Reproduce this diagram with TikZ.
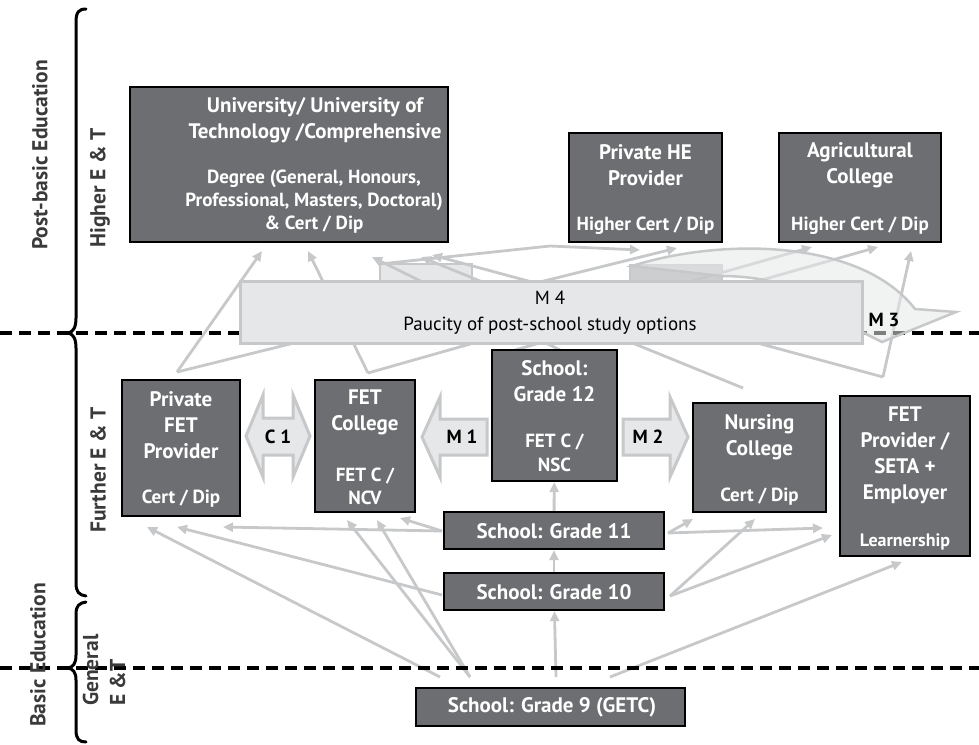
\documentclass[tikz,border=0pt]{standalone}
\usepackage{fontspec}
\setmainfont{PT Sans}
\usetikzlibrary{arrows.meta}
\definecolor{boxgray}{HTML}{6D6E71}
\definecolor{flowgray}{HTML}{C7C8CA}
\definecolor{lightfill}{HTML}{E6E7E8}
\definecolor{tabfill}{HTML}{CDCED0}
\definecolor{labelgray}{HTML}{3A3A3A}
\begin{document}
\begin{tikzpicture}[x=1pt,y=-1pt,
  box/.style={draw=black, line width=2.2pt, fill=boxgray, inner sep=0pt},
  title/.style={text=white, font=\bfseries\fontsize{21}{26}\selectfont, align=center, inner sep=0pt},
  sub/.style={text=white, font=\bfseries\fontsize{19}{23}\selectfont, align=center, inner sep=0pt},
  flow/.style={draw=flowgray, line width=2.8pt, -{Triangle[length=10pt,width=9pt]}},
  blockarrow/.style={draw=flowgray, line width=3pt, fill=lightfill, line join=miter},
  blocklabel/.style={font=\bfseries\fontsize{19}{20}\selectfont, text=black, inner sep=0pt},
  divider/.style={draw=black, line width=3.2pt, dash pattern=on 12pt off 7pt},
  side/.style={rotate=90, font=\bfseries\fontsize{21.5}{27}\selectfont, text=labelgray, inner sep=0pt},
  bracepath/.style={draw=black, line width=3pt, line cap=round}
]
\useasboundingbox (0,0) rectangle (979,744);

% ---------- M4 tabs (behind the flow lines)
\path[draw=flowgray, line width=2.5pt, fill=lightfill] (380,264) rectangle (472,284);
\path[draw=flowgray, line width=2.5pt, fill=tabfill] (630,265) rectangle (722,284);

% ---------- named coordinates for the flow fan
\coordinate (v1) at (177,372);
\coordinate (v2) at (368,373);
\coordinate (v3a) at (560,350);
\coordinate (v3b) at (515,350);
\coordinate (v4) at (743,388);
\coordinate (v5) at (883,377);
\coordinate (t1) at (262,251);
\coordinate (t2) at (308,251);
\coordinate (t3) at (372,257);
\coordinate (t4) at (421,257);
\coordinate (t4b) at (432,255);
\coordinate (t5) at (640,250);
\coordinate (t6) at (677,248);
\coordinate (t7) at (812,247);
\coordinate (t8) at (878,247);
\coordinate (t9) at (911,251);
\coordinate (tabl) at (380,264);
\coordinate (peak) at (550,246);

\draw[flow] (v1) -- (t1);
\draw[flow] (v1) -- (t6);
\draw[flow] (v2) -- (t2);
\draw[flow] (v2) -- (t7);
\draw[flow] (v3a) -- (t3);
\draw[flow] (v3b) -- (t8);
\draw[flow] (v4) -- (t4);
\draw[flow] (v5) -- (t4b);
\draw[flow] (v5) -- (t9);
\draw[flow] (tabl) -- (peak) -- (t5);

% ---------- dashed dividers
\coordinate (d1l) at (0,333);
\coordinate (d1r) at (979,333);
\coordinate (d2l) at (0,668);
\coordinate (d2r) at (979,668);
\draw[divider] (d1l) -- (d1r);

% ---------- M3 curved arrow
\path[draw=flowgray, line width=2.5pt, fill=lightfill, fill opacity=0.55, line join=miter]
  (632,266) .. controls (720,238) and (860,238) .. (915,309) -- (956,312) -- (882,342)
  -- (862,332) .. controls (830,292) and (770,276) .. (722,276) -- cycle;
\node[blocklabel] (m3) at (884,320) {M 3};

% ---------- M4 box
\node[draw=flowgray, line width=3pt, fill=lightfill, minimum width=622pt, minimum height=62pt, inner sep=0pt] (m4) at (551,312) {};
\node[font=\fontsize{19}{26}\selectfont, align=center, inner sep=0pt] (m4t) at (550,313) {M 4\\Paucity of post-school study options};

% ---------- boxes
\node[box, minimum width=318pt, minimum height=155pt] (uni) at (289,164.5) {};
\node[title] (unit) at (315,120) {University/ University of\\Technology /Comprehensive};
\node[sub] (unis) at (314,202) {Degree (General, Honours,\\Professional, Masters, Doctoral)\\\& Cert / Dip};

\node[box, minimum width=153pt, minimum height=109pt] (phe) at (645.5,187.5) {};
\node[title] (phet) at (645.5,165) {Private HE\\Provider};
\node[sub] (phes) at (645.5,226) {Higher Cert / Dip};

\node[box, minimum width=162pt, minimum height=109pt] (agr) at (860,187.5) {};
\node[title] (agrt) at (860,165) {Agricultural\\College};
\node[sub] (agrs) at (860,226) {Higher Cert / Dip};

\node[box, minimum width=118pt, minimum height=136pt] (pfet) at (181,448) {};
\node[title] (pfett) at (181,425) {Private\\FET\\Provider};
\node[sub] (pfets) at (181,499) {Cert / Dip};

\node[box, minimum width=100pt, minimum height=132pt] (fetc) at (365,446) {};
\node[title] (fetct) at (365,412) {FET\\College};
\node[sub] (fetcs) at (365,486) {FET C /\\NCV};

\node[box, minimum width=125pt, minimum height=131pt] (g12) at (554.5,415.5) {};
\node[title] (g12t) at (554.5,381) {School:\\Grade 12};
\node[sub, font=\bfseries\fontsize{19}{24}\selectfont] (g12s) at (554.5,453) {FET C /\\NSC};

\node[box, minimum width=133pt, minimum height=109pt] (nurs) at (759.5,457.5) {};
\node[title] (nurst) at (759.5,437) {Nursing\\College};
\node[sub] (nurss) at (759.5,497) {Cert / Dip};

\node[box, minimum width=130pt, minimum height=160pt] (fetp) at (905,476) {};
\node[title] (fetpt) at (905,455) {FET\\Provider /\\SETA +\\Employer};
\node[sub, font=\bfseries\fontsize{18}{20}\selectfont] (fetps) at (905,542) {Learnership};

\node[box, minimum width=220pt, minimum height=37pt] (g11) at (554,530.5) {};
\node[title] (g11t) at (554,531) {School: Grade 11};
\node[box, minimum width=220pt, minimum height=37pt] (g10) at (554,591.5) {};
\node[title] (g10t) at (554,592) {School: Grade 10};
\node[box, minimum width=269pt, minimum height=38pt] (g9) at (550.5,707) {};
\node[title] (g9t) at (552,707) {School: Grade 9 (GETC)};

% ---------- lower flows
\coordinate (g11w) at (442,531);
\coordinate (g10w) at (442,595);
\coordinate (g11e) at (668,533);
\coordinate (g10e) at (670,596);
\coordinate (g9a) at (440,677);
\coordinate (g9b) at (470,677);
\coordinate (g9c) at (556,677);
\coordinate (g9d) at (610,677);
\coordinate (pa) at (147,527);
\coordinate (pb) at (177,527);
\coordinate (pc) at (223,527);
\coordinate (fa) at (347,520);
\coordinate (fb) at (377,520);
\coordinate (fc) at (400,518);
\coordinate (na) at (693,519);
\coordinate (nb) at (755,519);
\coordinate (ea) at (823,528);
\coordinate (eb) at (832,535);
\coordinate (ec) at (902,562);

\draw[flow] (g11w) -- (pc);
\draw[flow] (g11w) -- (fc);
\draw[flow] (g10w) -- (pb);
\draw[flow] (g9a) -- (pa);
\draw[flow] (g9b) -- (fa);
\draw[flow] (g9b) -- (fb);
\draw[flow] (g9c) -- (g10);
\draw[flow] (g9d) -- (ec);
\draw[flow] (g10) -- (g11);
\draw[flow] (g11) -- (g12);
\draw[flow] (g11e) -- (na);
\draw[flow] (g11e) -- (ea);
\draw[flow] (g10e) -- (nb);
\draw[flow] (g10e) -- (eb);

\draw[divider] (d2l) -- (d2r);

% ---------- block arrows C1, M1, M2
\path[blockarrow] (246,436) -- (263,395) -- (263,418) -- (293,418) -- (293,395) -- (310,436)
  -- (293,477) -- (293,455) -- (263,455) -- (263,477) -- cycle;
\node[blocklabel] (c1) at (278,437) {C 1};
\path[blockarrow] (422,437) -- (440,397) -- (440,419) -- (487,419) -- (487,455) -- (440,455)
  -- (440,477) -- cycle;
\node[blocklabel] (m1) at (462,437) {M 1};
\path[blockarrow] (623,419) -- (670,419) -- (670,397) -- (688,437) -- (670,477) -- (670,455)
  -- (623,455) -- cycle;
\node[blocklabel] (m2) at (648,437) {M 2};

% ---------- braces
\draw[bracepath] (86,9) .. controls (79,9) and (76,12) .. (76,22) -- (76,318)
  .. controls (76,328) and (73,332) .. (68,333) .. controls (73,334) and (76,338) .. (76,348)
  -- (76,583) .. controls (76,592) and (79,595) .. (86,596);
\draw[bracepath] (86,602) .. controls (79,603) and (76,606) .. (76,614) -- (76,655)
  .. controls (76,664) and (73,667) .. (68,668) .. controls (73,669) and (76,672) .. (76,680)
  -- (76,730) .. controls (76,739) and (79,742) .. (86,742);

% ---------- side labels
\node[side] (postbasic) at (40,155) {Post-basic Education};
\node[side] (higher) at (100,188) {Higher E \& T};
\node[side] (further) at (98,470) {Further E \& T};
\node[side] (basic) at (38,655) {Basic Education};
\node[side, align=left, anchor=west] (general) at (104,706) {General\\E \&T};
\end{tikzpicture}
\end{document}
